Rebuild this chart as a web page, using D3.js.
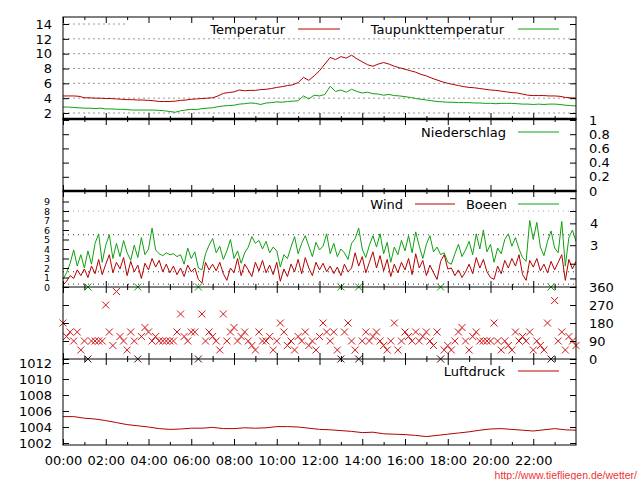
<!DOCTYPE html>
<html><head><meta charset="utf-8">
<script src="https://cdn.jsdelivr.net/npm/d3@7"></script>
<style>
body{margin:0;background:#fff}
text{font-family:"DejaVu Sans",sans-serif;font-size:13px;fill:#000}
.small text{font-size:9.5px}
</style>
</head><body>
<svg id="chart" width="640" height="480"></svg>
<script>
// 15 min samples, 00:00 .. 24:00
var temperatur = [4.3,4.3,4.3,4.25, 4.05,4.05,4.0,4.0, 3.95,3.95,3.9,3.85, 3.8,3.8,3.75,3.75,
  3.7,3.65,3.55,3.55, 3.55,3.6,3.7,3.75, 3.85,3.9,3.95,4.0, 4.05,4.3,4.65,4.75,
  4.85,5.1,5.0,5.05, 5.05,5.15,5.2,5.3, 5.45,5.55,5.7,5.8, 6.1,6.8,6.4,7.0,
  7.7,8.6,9.5,9.2, 9.6,9.4,9.8,9.3, 8.9,8.5,8.3,8.6, 8.8,8.6,8.3,8.1,
  7.9,7.7,7.5,7.2, 7.0,6.7,6.45,6.2, 6.0,5.85,5.7,5.55, 5.45,5.4,5.3,5.2,
  5.1,5.05,4.95,4.85, 4.75,4.7,4.55,4.4, 4.35,4.35,4.35,4.3, 4.3,4.25,4.1,4.05, 4.0];
var taupunkt = [2.8,2.8,2.75,2.7, 2.65,2.65,2.6,2.65, 2.55,2.55,2.5,2.5, 2.45,2.4,2.4,2.4,
  2.4,2.4,2.35,2.3, 2.2,2.1,2.3,2.4, 2.5,2.45,2.6,2.65, 2.7,2.85,2.95,3.0,
  3.05,3.2,3.25,3.35, 3.3,3.15,3.35,3.4, 3.5,3.45,3.55,3.6, 3.65,4.3,3.9,4.4,
  4.3,4.5,5.6,4.9, 5.1,4.8,5.2,4.9, 4.7,4.8,4.6,4.55, 4.4,4.5,4.35,4.3,
  4.2,4.1,3.95,3.85, 3.75,3.65,3.55,3.5, 3.45,3.45,3.4,3.4, 3.4,3.35,3.35,3.3,
  3.3,3.25,3.3,3.3, 3.3,3.25,3.2,3.2, 3.15,3.2,3.15,3.2, 3.2,3.15,3.05,3.0, 2.95];
// hourly
var niederschlag = [0,0,0,0,0,0,0,0,0,0,0,0,0,0,0,0,0,0,0,0,0,0,0,0,0];
// 10 min samples
var wind = [0.2,0.6,1.2,0.9,1.8,1.2,1.9,1.0,2.2,1.4, 2.9,1.3,2.4,3.4,1.5,2.6,1.9,3.1,1.2,2.7,
  1.6,2.3,0.9,2.5,1.8,3.0,2.1,2.8,1.6,2.4, 1.5,2.2,1.3,2.0,1.1,2.3,1.6,2.0,0.8,0.4,
  2.6,1.8,2.4,1.7,2.6,1.4,0.7,2.0,1.5,3.0, 1.2,2.4,1.8,1.1,2.6,1.7,2.8,1.5,2.3,1.3,
  2.6,0.6,1.9,1.1,2.4,1.6,2.9,1.4,3.1,2.0, 1.2,2.6,1.8,2.5,1.6,2.2,1.4,2.1,1.2,2.4,
  1.6,2.0,3.6,2.2,3.2,1.5,2.6,3.7,2.0,3.3, 1.7,2.9,1.1,2.4,1.5,2.6,1.8,3.0,1.3,3.5,
  2.0,2.8,1.2,2.3,1.5,0.8,2.7,3.4,1.9,2.0, 1.2,1.8,1.0,1.6,2.4,1.4,3.1,2.0,2.9,1.6,
  1.0,0.8,2.2,1.4,2.8,2.0,3.0,2.2,3.4,1.3, 0.7,2.8,2.1,3.0,1.7,2.4,1.5,2.7,1.8,2.6,
  3.4,0.7,2.9,1.9,2.7];
var boeen = [0.8,1.5,2.5,3.9,2.2,3.4,2.0,3.8,2.4,4.6, 5.6,2.6,4.4,5.5,3.0,4.6,3.2,4.9,3.6,2.8,
  4.4,3.1,5.2,3.4,4.0,6.2,3.9,3.5,3.3,3.6, 3.4,3.5,3.2,3.4,2.4,4.1,3.0,3.7,2.0,1.8,
  3.5,4.4,5.1,3.6,4.3,2.9,3.8,5.0,3.0,3.8, 2.5,3.6,4.2,5.3,4.6,4.9,4.0,4.8,3.6,4.2,
  3.8,2.1,3.4,3.0,4.2,5.3,3.5,4.6,5.4,4.3, 3.2,4.7,3.9,4.3,5.6,3.5,4.6,3.2,4.0,3.6,
  2.9,4.6,5.1,6.2,4.0,3.1,4.4,5.4,4.2,5.6, 3.5,4.7,2.6,4.2,3.4,4.9,3.8,5.4,3.6,5.8,
  4.3,3.0,4.5,5.4,3.7,4.2,3.4,3.6,2.6,2.4, 3.5,4.5,3.2,3.9,4.8,3.4,5.6,4.0,6.0,3.7,
  4.5,2.6,4.1,3.5,5.0,5.6,4.3,5.2,4.0,3.1, 2.7,7.0,5.0,6.8,4.2,3.3,4.8,5.9,4.1,3.6,
  6.9,2.2,5.2,6.0,4.8];
var richtung = [180,112.5,135,90,135,45,90,0,90,90, 90,90,270,135,67.5,337.5,112.5,90,45,135,
  90,0,112.5,157.5,135,90,112.5,90,90,90, 90,90,135,225,112.5,90,135,135,0,225,
  90,135,112.5,90,45,225,90,135,157.5,90, 112.5,135,90,67.5,45,135,90,90,112.5,45,
  90,180,135,67.5,90,45,112.5,90,135,67.5, 90,45,112.5,180,135,90,135,45,0,135,
  180,90,45,0,90,135,90,112.5,135,90, 67.5,45,90,180,45,90,135,112.5,90,135,
  90,112.5,135,90,67.5,135,0,45,67.5,45, 90,135,157.5,90,45,112.5,135,90,90,90,
  90,180,90,45,90,67.5,45,135,90,112.5, 90,135,45,90,67.5,45,180,0,292.5,90,
  135,45,112.5,90,67.5];
// 30 min samples
var luftdruck = [1005.3,1005.3,1005.1,1005.0,1004.8,1004.55,1004.3,1004.15,1004.0,1003.8,
  1003.7,1003.75,1003.85,1003.85,1003.95,1003.8,1003.8,1003.9,1003.85,1003.9,
  1004.05,1004.05,1004.0,1003.85,1003.7,1003.65,1003.55,1003.45,1003.3,1003.35,
  1003.15,1003.1,1003.05,1002.95,1002.8,1002.95,1003.1,1003.25,1003.4,1003.6,
  1003.75,1003.8,1003.7,1003.6,1003.5,1003.65,1003.8,1003.65,1003.6];

var hourTicks = d3.range(0, 25);
var labelHours = d3.range(0, 24, 2);
var tempTicks = [2,4,6,8,10,12,14];
var rainTicks = [0,0.2,0.4,0.6,0.8,1];
var windTicks = [0,1,2,3,4,5,6,7,8,9];
var bftTicks = [0.9,2.45,4.4,6.7,8.0,9.35];
var bftLabelAt = [4.4,6.7], bftLabels = ["3","4"];
var windGrid = [0.3,1.6,5.5];
var dirTicks = [0,90,180,270,360];
var pressTicks = [1002,1004,1006,1008,1010,1012];

var red = "#b40000", green = "#10a010", xred = "#d01818";
var L = 63, R = 576;
var svg = d3.select("#chart");

var x = d3.scaleLinear().domain([0,24]).range([L,R]);
var yT = d3.scaleLinear().domain([2,14]).range([113,24]);
var yN = d3.scaleLinear().domain([0,1]).range([191,120]);
var yW = d3.scaleLinear().domain([0,9]).range([287,201.5]);
var yD = d3.scaleLinear().domain([0,360]).range([359,287]);
var yP = d3.scaleLinear().domain([1002,1012]).range([443,363]);

var panels = [[17,119],[119,191],[191,287],[287,359],[359,445]];
panels.forEach(function(p,i){
  svg.append("clipPath").attr("id","clip"+i).append("rect")
    .attr("x",L).attr("y",p[0]).attr("width",R-L).attr("height",p[1]-p[0]);
});

function noDomain(g){ g.select(".domain").remove(); g.attr("font-family",null).attr("font-size",null); }

// gridlines temperature
svg.append("g").selectAll("line").data(tempTicks).join("line")
  .attr("x1",L).attr("x2",R).attr("y1",d=>yT(d)).attr("y2",d=>yT(d))
  .attr("stroke","#9a9a9a").attr("stroke-dasharray","2,3");
// legend box of temperature panel hides part of top gridline
svg.append("rect").attr("x",126).attr("y",18).attr("width",R-127).attr("height",14).attr("fill","#fff");

// gridlines wind (beaufort limits)
svg.append("g").selectAll("line").data(windGrid).join("line")
  .attr("x1",L).attr("x2",R).attr("y1",d=>yW(d)).attr("y2",d=>yW(d))
  .attr("stroke","#333").attr("stroke-dasharray","1,4");
svg.append("line").attr("x1",L).attr("x2",R).attr("y1",yW(8.0)).attr("y2",yW(8.0))
  .attr("stroke","#90a4bc").attr("stroke-dasharray","1,4");

function series(data, step, y, color, clip){
  svg.append("path").datum(data)
    .attr("clip-path","url(#clip"+clip+")")
    .attr("fill","none").attr("stroke",color).attr("stroke-width",1)
    .attr("d", d3.line().x((d,i)=>x(i*step)).y(d=>y(d)));
}
series(taupunkt, 0.25, yT, green, 0);
series(temperatur, 0.25, yT, red, 0);
series(niederschlag, 1, yN, green, 1);
series(boeen, 1/6, yW, green, 2);
series(wind, 1/6, yW, red, 2);
series(luftdruck, 0.5, yP, red, 4);

// wind direction crosses
var cross = "M-3.5,-3.5L3.5,3.5M-3.5,3.5L3.5,-3.5";
var dirs = richtung.map((d,i)=>({t:i/6, d:d}));
svg.append("g").selectAll("path").data(dirs.filter(d=>d.d>0)).join("path")
  .attr("d",cross).attr("stroke",xred).attr("fill","none")
  .attr("transform",d=>"translate("+x(d.t)+","+yD(d.d)+")");
var north = dirs.filter(d=>d.d===0);
svg.append("g").selectAll("path").data(north).join("path")
  .attr("d",cross).attr("stroke",green).attr("fill","none")
  .attr("transform",d=>"translate("+x(d.t)+","+yD(360)+")");
svg.append("g").selectAll("path").data(north).join("path")
  .attr("d",cross).attr("stroke","#3a1010").attr("fill","none")
  .attr("transform",d=>"translate("+x(d.t)+","+yD(0)+")");

// x ticks on every panel
panels.forEach(function(p,i){
  var last = i === panels.length-1;
  svg.append("g").attr("transform","translate(0,"+p[0]+")")
    .call(d3.axisTop(x).tickValues(hourTicks.filter(h=>h%2==1)).tickSize(-3).tickFormat("")).call(noDomain);
  svg.append("g").attr("transform","translate(0,"+p[0]+")")
    .call(d3.axisTop(x).tickValues(labelHours).tickSize(-6).tickFormat("")).call(noDomain);
  svg.append("g").attr("transform","translate(0,"+p[1]+")")
    .call(d3.axisBottom(x).tickValues(hourTicks.filter(h=>h%2==1)).tickSize(-3).tickFormat("")).call(noDomain);
  svg.append("g").attr("transform","translate(0,"+p[1]+")")
    .call(d3.axisBottom(x).tickValues(labelHours).tickSize(-6).tickPadding(11)
      .tickFormat(last ? (h=>d3.format("02")(h)+":00") : "")).call(noDomain);
});

// y axes
function yaxis(axis, pos, cls){
  svg.append("g").attr("class",cls||null).attr("transform","translate("+pos+",0)").call(axis).call(noDomain);
}
yaxis(d3.axisLeft(yT).tickValues(tempTicks).tickSize(-6).tickPadding(11), L);
yaxis(d3.axisRight(yT).tickValues(tempTicks).tickSize(-6).tickFormat(""), R);
yaxis(d3.axisLeft(yN).tickValues(rainTicks).tickSize(-6).tickFormat(""), L);
yaxis(d3.axisRight(yN).tickValues(rainTicks).tickSize(-6).tickPadding(13).tickFormat(d3.format("~g")), R);
yaxis(d3.axisLeft(yW).tickValues(windTicks).tickSize(-6).tickPadding(13), L, "small");
yaxis(d3.axisRight(yW).tickValues(bftTicks).tickSize(-6).tickFormat(""), R);
yaxis(d3.axisRight(yW).tickValues(bftLabelAt).tickSize(0).tickPadding(14).tickFormat((d,i)=>bftLabels[i]), R);
yaxis(d3.axisLeft(yD).tickValues(dirTicks).tickSize(-6).tickFormat(""), L);
yaxis(d3.axisRight(yD).tickValues(dirTicks).tickSize(-6).tickPadding(13), R);
yaxis(d3.axisLeft(yP).tickValues(pressTicks).tickSize(-6).tickPadding(11).tickFormat(d3.format("d")), L);
yaxis(d3.axisRight(yP).tickValues(pressTicks).tickSize(-6).tickFormat(""), R);

// borders
svg.append("line").attr("x1",L).attr("x2",L).attr("y1",17).attr("y2",445).attr("stroke","#000");
svg.append("line").attr("x1",R).attr("x2",R).attr("y1",17).attr("y2",445).attr("stroke","#000");
[[17,1],[119,2.5],[191,2.5],[287,1],[359,1],[445,1]].forEach(function(b){
  svg.append("line").attr("x1",L-0.5).attr("x2",R+0.5).attr("y1",b[0]).attr("y2",b[0])
    .attr("stroke","#000").attr("stroke-width",b[1]);
});

// legends
function key(label, textEnd, y, x1, x2, color){
  svg.append("text").attr("x",textEnd).attr("y",y).attr("dy","0.35em")
    .attr("text-anchor","end").text(label);
  svg.append("line").attr("x1",x1).attr("x2",x2).attr("y1",y).attr("y2",y).attr("stroke",color);
}
key("Temperatur", 285, 29, 298, 340, red);
key("Taupunkttemperatur", 504, 29, 518, 559, green);
key("Niederschlag", 506, 132, 518, 559, green);
key("Wind", 403, 204, 415, 455, red);
key("Boeen", 507, 204, 518, 559, green);
key("Luftdruck", 505, 371, 518, 559, red);

svg.append("text").attr("x",637).attr("y",479).attr("text-anchor","end")
  .style("font-family","'Liberation Sans',Arial,sans-serif").style("font-size","10.5px")
  .style("fill","#ee3333").text("http://www.tiefliegen.de/wetter/");
</script>
</body></html>
